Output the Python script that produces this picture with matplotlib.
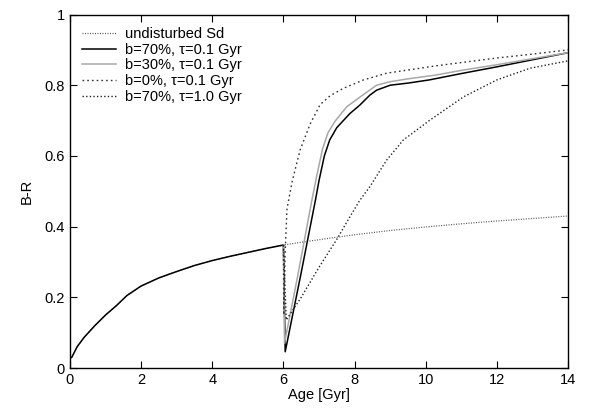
#!/usr/bin/env python3
"""B-R colour evolution of a disturbed Sd galaxy model."""

import matplotlib

matplotlib.use("Agg")
import matplotlib.pyplot as plt

plt.rcParams["font.family"] = ["Liberation Sans", "DejaVu Sans"]

# common evolution up to the burst at 6 Gyr
base_age = [0, 0.05, 0.2, 0.4, 0.7, 1.0, 1.3, 1.6, 2.0, 2.5, 3.0, 3.5, 4.0, 4.5, 5.0, 5.5, 6.0]
base_br = [0.028, 0.03, 0.06, 0.087, 0.12, 0.15, 0.176, 0.205, 0.232, 0.255, 0.273,
           0.29, 0.304, 0.316, 0.327, 0.338, 0.348]

undist_age = [6, 7, 8, 9, 10, 11, 12, 13, 14]
undist_br = [0.348, 0.363, 0.377, 0.389, 0.399, 0.408, 0.416, 0.423, 0.43]

b70_age = [6.0, 6.05, 6.5, 6.9, 7.0, 7.15, 7.3, 7.5, 7.87, 8.15, 8.43, 8.62, 9.0, 9.5,
           10.1, 11, 12, 13, 14]
b70_br = [0.348, 0.046, 0.27, 0.475, 0.53, 0.6, 0.645, 0.68, 0.72, 0.744, 0.772, 0.786,
          0.80, 0.806, 0.815, 0.833, 0.852, 0.872, 0.892]

b30_age = [6.0, 6.03, 6.4, 6.8, 6.95, 7.1, 7.25, 7.45, 7.78, 8.2, 8.62, 9.0, 9.5, 10.3,
           11, 12, 13, 14]
b30_br = [0.348, 0.07, 0.26, 0.475, 0.55, 0.62, 0.665, 0.698, 0.739, 0.77, 0.80, 0.81,
          0.818, 0.829, 0.842, 0.858, 0.875, 0.892]

b0_age = [6.0, 6.01, 6.05, 6.1, 6.25, 6.47, 6.75, 7.03, 7.31, 7.68, 8.25, 8.9, 10.3,
          12, 13, 14]
b0_br = [0.348, 0.15, 0.33, 0.45, 0.53, 0.617, 0.69, 0.745, 0.77, 0.791, 0.815, 0.834,
         0.855, 0.877, 0.888, 0.90]

slow_age = [6.0, 6.08, 6.5, 7.0, 7.5, 7.87, 8.15, 8.43, 8.9, 9.37, 10.1, 11.06, 12,
            12.93, 14]
slow_br = [0.348, 0.136, 0.2, 0.285, 0.364, 0.428, 0.475, 0.513, 0.588, 0.645, 0.70,
           0.767, 0.815, 0.848, 0.869]

labels = ["undisturbed Sd", "b=70%, τ=0.1 Gyr", "b=30%, τ=0.1 Gyr",
          "b=0%, τ=0.1 Gyr", "b=70%, τ=1.0 Gyr"]


def main() -> None:
    fig = plt.figure(figsize=(5.92, 4.09), dpi=100)
    ax = fig.add_axes([0.1182, 0.1002, 0.8413, 0.8643])

    ax.plot(base_age + undist_age[1:], base_br + undist_br[1:], color="#555555",
            linewidth=0.9, linestyle=(0, (0.8, 1.2)), label=labels[0])
    ax.plot(base_age, base_br, color="black", linewidth=1.1)
    ax.plot(b70_age, b70_br, color="black", linewidth=1.1, label=labels[1])
    ax.plot(b30_age, b30_br, color="#a8a8a8", linewidth=1.1, label=labels[2])
    ax.plot(b0_age, b0_br, color="#333333", linewidth=1.0,
            linestyle=(0, (1.2, 2.2)), label=labels[3])
    ax.plot(slow_age, slow_br, color="#222222", linewidth=1.0,
            linestyle=(0, (1.0, 1.6)), label=labels[4])

    ax.set_xlim(0, 14)
    ax.set_ylim(0, 1)
    ax.set_xticks(range(0, 15, 2))
    ax.set_yticks([0, 0.2, 0.4, 0.6, 0.8, 1.0])
    ax.set_yticklabels(["0", "0.2", "0.4", "0.6", "0.8", "1"])
    ax.tick_params(direction="in", top=True, right=True, length=5, labelsize=10.5,
                   width=0.8)
    for spine in ax.spines.values():
        spine.set_linewidth(1.0)
    ax.set_xlabel("Age [Gyr]", fontsize=10.5, labelpad=1)
    ax.set_ylabel("B-R", fontsize=10.5, labelpad=8)

    ax.legend(loc="upper left", frameon=False, fontsize=10.5, handlelength=2.3,
              handletextpad=0.6, labelspacing=0.12, borderpad=0.75,
              borderaxespad=0.1)

    fig.savefig("out.png", dpi=100)
    plt.close(fig)


if __name__ == "__main__":
    main()
